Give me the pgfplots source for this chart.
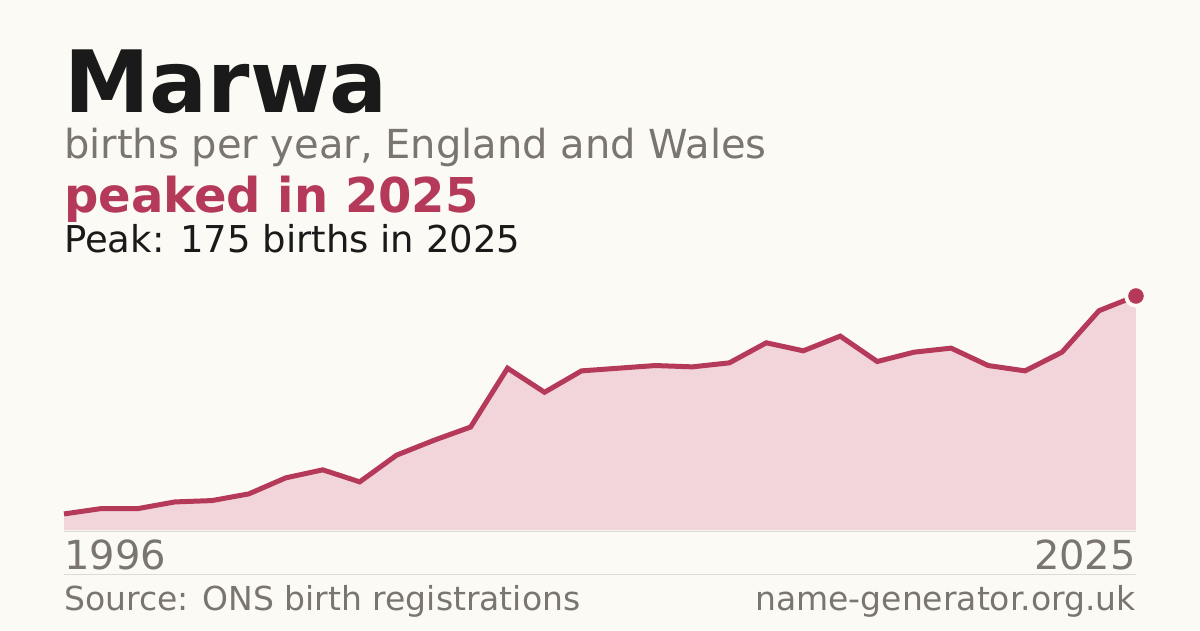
\documentclass[border=0pt]{standalone}
\usepackage{pgfplots}
\pgfplotsset{compat=1.18}
\usepackage{fontspec}
\setmainfont{DejaVu Sans}

\definecolor{bg}{RGB}{251,250,245}
\definecolor{ink}{RGB}{26,26,26}
\definecolor{muted}{RGB}{122,117,110}
\definecolor{rose}{RGB}{181,57,89}
\definecolor{rosefill}{RGB}{242,213,219}
\definecolor{rule}{RGB}{222,219,211}

\pgfplotstableread{
year births
1996 12
1997 16
1998 16
1999 21
2000 22
2001 27
2002 39
2003 45
2004 36
2005 56
2006 67
2007 77
2008 121
2009 103
2010 119
2011 121
2012 123
2013 122
2014 125
2015 140
2016 134
2017 145
2018 126
2019 133
2020 136
2021 123
2022 119
2023 133
2024 164
2025 175
}\birthtable

\begin{document}
\begin{tikzpicture}
	\useasboundingbox (0pt,0pt) rectangle (1200pt,630pt);
	\fill[bg] (0pt,0pt) rectangle (1200pt,630pt);

	% header
	\node[anchor=base west,inner sep=0,text=ink,font=\fontsize{86}{86}\selectfont\bfseries] at (64pt,517pt) {Marwa};
	\node[anchor=base west,inner sep=0,text=muted,font=\fontsize{40}{40}\selectfont] at (64pt,471pt) {births per year, England and Wales};
	\node[anchor=base west,inner sep=0,text=rose,font=\fontsize{48}{48}\selectfont\bfseries] at (64pt,417pt) {peaked in 2025};
	\node[anchor=base west,inner sep=0,text=ink,font=\fontsize{37}{37}\selectfont] at (64pt,377pt) {Peak: 175 births in 2025};

	\begin{axis}[
		at={(64pt,100pt)},
		anchor=south west,
		scale only axis,
		width=1072pt,
		height=234pt,
		xmin=1996, xmax=2025,
		ymin=0, ymax=175,
		axis lines=none,
		clip=false,
	]
		\addplot[fill=rosefill,draw=none] table[x=year,y=births] {\birthtable} \closedcycle;
		\addplot[rose,line width=5pt] table[x=year,y=births] {\birthtable};
		\addplot[bg,only marks,mark=*,mark size=11.5pt] coordinates {(2025,175)};
		\addplot[rose,only marks,mark=*,mark size=7.5pt] coordinates {(2025,175)};
	\end{axis}

	\draw[rule,line width=1pt] (64pt,99pt) -- (1136pt,99pt);
	\draw[rule,line width=1pt] (64pt,56pt) -- (1136pt,56pt);

	% year labels and footer
	\node[anchor=base west,inner sep=0,text=muted,font=\fontsize{40}{40}\selectfont] at (64pt,61pt) {1996};
	\node[anchor=base east,inner sep=0,text=muted,font=\fontsize{40}{40}\selectfont] at (1136pt,61pt) {2025};
	\node[anchor=base west,inner sep=0,text=muted,font=\fontsize{33}{33}\selectfont] at (64pt,20pt) {Source: ONS birth registrations};
	\node[anchor=base east,inner sep=0,text=muted,font=\fontsize{33}{33}\selectfont] at (1136pt,20pt) {name-generator.org.uk};
\end{tikzpicture}
\end{document}
